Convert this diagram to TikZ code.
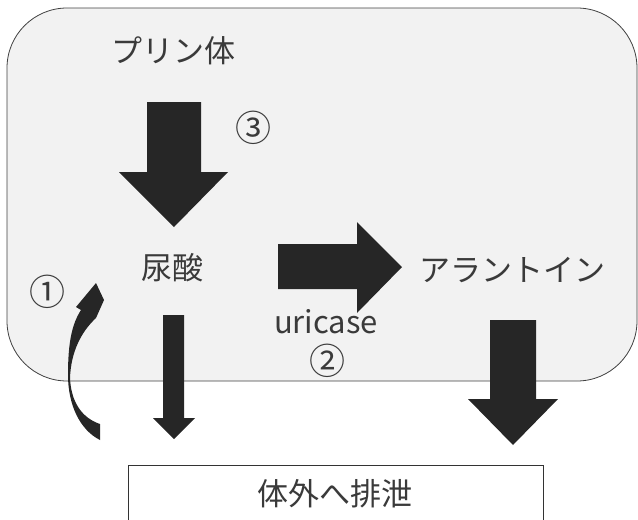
\documentclass[tikz,border=0pt]{standalone}
\usepackage{fontspec}
\setmainfont{Noto Sans CJK JP}
\definecolor{arrowc}{HTML}{262626}
\definecolor{txt}{HTML}{3A3A3A}
\definecolor{panel}{HTML}{F2F2F2}
\begin{document}
\begin{tikzpicture}[x=1pt,y=-1pt,
  lbl/.style={text=txt, font=\fontsize{31}{36}\selectfont, inner sep=0pt},
  num/.style={text=txt, font=\fontsize{36}{40}\selectfont, inner sep=0pt},
  blk/.style={fill=arrowc, draw=none}]
\useasboundingbox (0,0) rectangle (638,520);
% panel
\draw[fill=panel, draw=black!75, line width=0.8pt, rounded corners=60pt] (7,8) rectangle (637,381);
% bottom box
\draw[fill=white, draw=black!80, line width=0.8pt] (128,465) rectangle (543,530);
% texts
\node[lbl] (purine) at (173,51) {プリン体};
\node[lbl] (urate) at (172,268) {尿酸};
\node[lbl] (allantoin) at (512,270) {アラントイン};
\node[lbl] (uricase) at (326,322) {uricase};
\node[lbl] (excr) at (335,494) {体外へ排泄};
\node[num] (n1) at (48,292) {①};
\node[num] (n2) at (327,361) {②};
\node[num] (n3) at (253,128) {③};
% block arrows
\fill[blk] (147,102) -- (201,102) -- (201,172) -- (228,172) -- (174,227) -- (119,172) -- (147,172) -- cycle;
\fill[blk] (278,244) -- (357,244) -- (357,222) -- (402,267) -- (357,313) -- (357,289) -- (278,289) -- cycle;
\fill[blk] (163,315) -- (184,315) -- (184,418) -- (195,418) -- (174,439) -- (153,418) -- (163,418) -- cycle;
\fill[blk] (490,320) -- (536,320) -- (536,399) -- (558,399) -- (513,445) -- (468,399) -- (490,399) -- cycle;
% curved arrow
\fill[blk] (100,440) .. controls (80,430) and (68,405) .. (68,375)
  .. controls (68,342) and (72,324) .. (81,310)
  -- (76,307) -- (96,283) -- (104,300) -- (96,318)
  .. controls (81,332) and (71,352) .. (70,378)
  .. controls (71,402) and (82,418) .. (100,424) -- cycle;
\end{tikzpicture}
\end{document}
